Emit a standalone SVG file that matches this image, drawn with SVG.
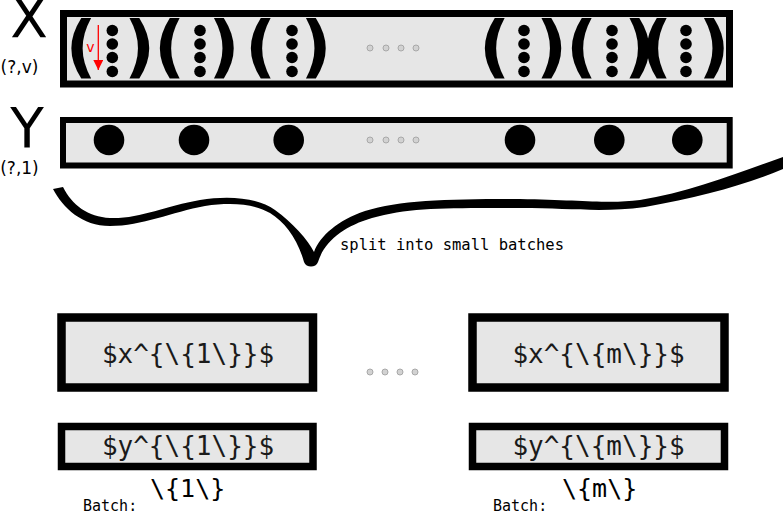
<svg xmlns="http://www.w3.org/2000/svg" width="783" height="512" viewBox="0 0 783 512">
<defs>
<style>
.box{fill:#e6e6e6;stroke:#000;}
.dot{fill:#000;}
.big{fill:#000;}
.gd{fill:#d2d2d2;stroke:#a8a8a8;stroke-width:1;}
.par{font-family:"DejaVu Sans",sans-serif;font-weight:bold;font-size:68px;text-anchor:middle;fill:#000;}
.lbl{font-family:"DejaVu Sans",sans-serif;fill:#000;}
.mono{font-family:"DejaVu Sans Mono",monospace;fill:#000;}
.bt{font-family:"DejaVu Sans Mono",monospace;font-size:26px;text-anchor:middle;fill:#1a1a1a;}
</style>
<marker id="ah" viewBox="0 0 10 10" refX="10" refY="5" markerWidth="10" markerHeight="10" markerUnits="userSpaceOnUse" orient="auto">
<path d="M0,0 L10,5 L0,10 Z" fill="#ff0000"/>
</marker>
<g id="pgrp">
<circle class="dot" cx="0" cy="30.5" r="5.8"/>
<circle class="dot" cx="0" cy="44" r="5.8"/>
<circle class="dot" cx="0" cy="57.5" r="5.8"/>
<circle class="dot" cx="0" cy="71.5" r="5.8"/>
</g>
</defs>
<rect width="783" height="512" fill="#fff"/>

<g id="labels">
<text class="lbl" x="29" y="37" font-size="55" text-anchor="middle">X</text>
<text class="lbl" x="19.5" y="73" font-size="17" text-anchor="middle">(?,v)</text>
<text class="lbl" x="27" y="147" font-size="55" text-anchor="middle">Y</text>
<text class="lbl" x="19.5" y="174" font-size="17" text-anchor="middle">(?,1)</text>
</g>

<g id="X">
<rect class="box" x="63.5" y="13.5" width="666" height="70.5" stroke-width="7"/>
<text class="par" x="81" y="70">(</text>
<use href="#pgrp" x="112.3"/>
<text class="par" x="139.5" y="70">)</text>
<text class="par" x="169.5" y="70">(</text>
<use href="#pgrp" x="200"/>
<text class="par" x="224" y="70">)</text>
<text class="par" x="260.5" y="70">(</text>
<use href="#pgrp" x="292"/>
<text class="par" x="316" y="70">)</text>
<circle class="gd" cx="370" cy="48" r="3"/>
<circle class="gd" cx="386" cy="48" r="3"/>
<circle class="gd" cx="401" cy="48" r="3"/>
<circle class="gd" cx="416" cy="48" r="3"/>
<text class="par" x="494.5" y="70">(</text>
<use href="#pgrp" x="524"/>
<text class="par" x="551.5" y="70">)</text>
<text class="par" x="581.5" y="70">(</text>
<use href="#pgrp" x="612"/>
<text class="par" x="639.5" y="70">)</text>
<text class="par" x="656.5" y="70">(</text>
<use href="#pgrp" x="686"/>
<text class="par" x="714" y="70">)</text>
<line x1="98.3" y1="25" x2="98.3" y2="70" stroke="#ff0000" stroke-width="1.3" marker-end="url(#ah)"/>
<text class="lbl" x="90.5" y="52" font-size="14" text-anchor="middle" style="fill:#ff0000">v</text>
</g>

<g id="Y">
<rect class="box" x="63" y="120" width="666.7" height="45.5" stroke-width="6"/>
<circle class="big" cx="109" cy="140" r="15.3"/>
<circle class="big" cx="194" cy="140" r="15.3"/>
<circle class="big" cx="288.7" cy="140" r="15.3"/>
<circle class="gd" cx="370" cy="140" r="3"/>
<circle class="gd" cx="386" cy="140" r="3"/>
<circle class="gd" cx="401" cy="140" r="3"/>
<circle class="gd" cx="416" cy="140" r="3"/>
<circle class="big" cx="520" cy="140" r="15.3"/>
<circle class="big" cx="609.3" cy="140" r="15.3"/>
<circle class="big" cx="687.3" cy="140" r="15.3"/>
</g>

<g id="connectors">
<path fill="#000" d="M 53,189 L 63,187 C 72,205 88,217 110,218 C 140,219 165,206 200,200 C 230,195 258,198 275,210 C 292,222 308,240 314,252 C 320,236 338,220 365,211 C 400,200 450,199 520,199 C 580,200 610,204 640,200 C 690,192 740,172 783,157 L 783,169 C 745,185 700,197 645,207 C 600,213 570,208 520,208 C 450,208 410,207 372,218 C 345,226 325,240 318,262 C 316,268 306,268 304,262 C 298,240 285,222 270,213 C 255,204 232,202 205,206 C 172,212 142,226 110,226 C 82,226 63,208 53,189 Z"/>
<text class="mono" x="340" y="250" font-size="15.5">split into small batches</text>
</g>

<g id="batch1">
<rect class="box" x="61.5" y="317.5" width="251.5" height="70" stroke-width="8.5"/>
<text class="bt" x="188" y="363">$x^{\{1\}}$</text>
<rect class="box" x="61.5" y="426.5" width="251.5" height="40" stroke-width="7.5"/>
<text class="bt" x="188" y="455">$y^{\{1\}}$</text>
<text class="mono" x="83" y="511" font-size="15">Batch:</text>
<text class="mono" x="150" y="497" font-size="25">\{1\}</text>
</g>

<g id="ellipsis">
<circle class="gd" cx="370" cy="372" r="3"/>
<circle class="gd" cx="385" cy="372" r="3"/>
<circle class="gd" cx="400" cy="372" r="3"/>
<circle class="gd" cx="415" cy="372" r="3"/>
</g>

<g id="batchm">
<rect class="box" x="472.5" y="317.5" width="252" height="70" stroke-width="8.5"/>
<text class="bt" x="598.5" y="363">$x^{\{m\}}$</text>
<rect class="box" x="472.5" y="426.5" width="252" height="40" stroke-width="7.5"/>
<text class="bt" x="598.5" y="455">$y^{\{m\}}$</text>
<text class="mono" x="493" y="511" font-size="15">Batch:</text>
<text class="mono" x="562" y="497" font-size="25">\{m\}</text>
</g>
</svg>
